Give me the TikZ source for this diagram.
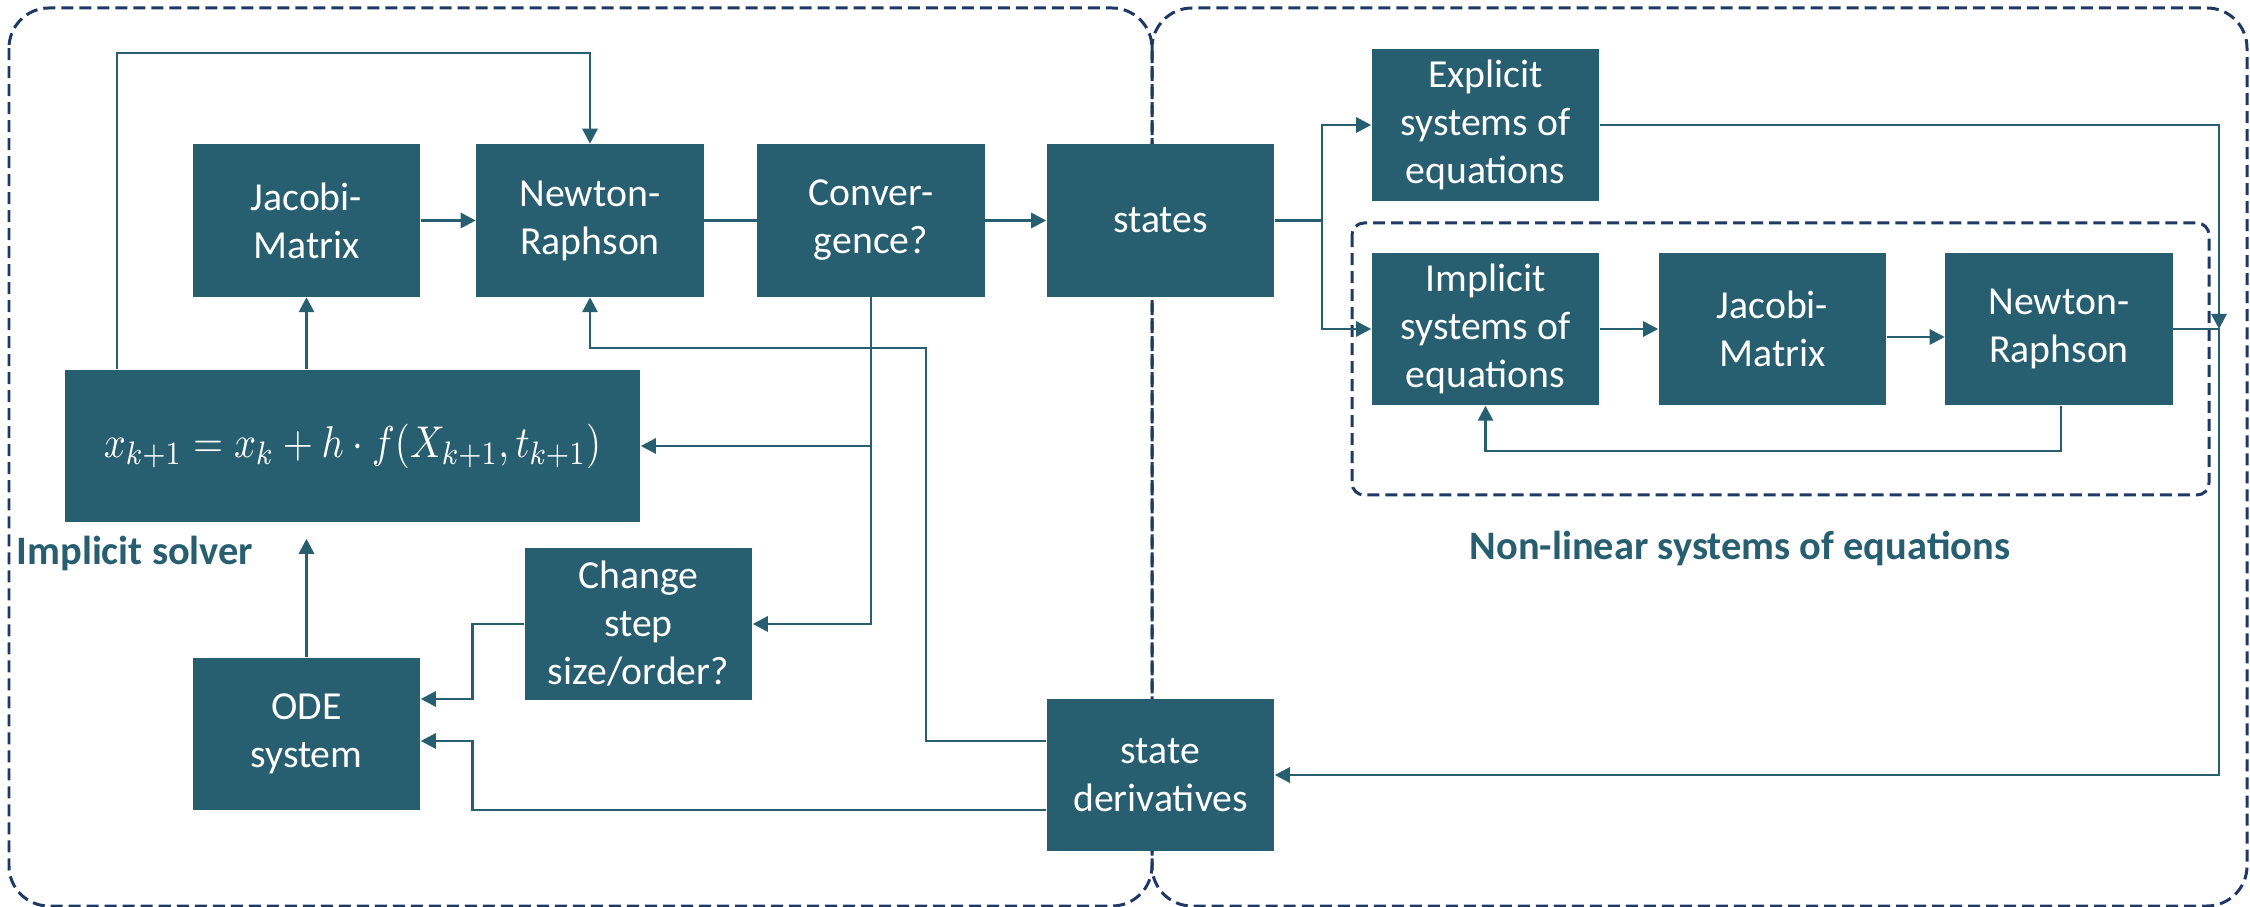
\documentclass[tikz,border=0pt]{standalone}
\usepackage{fontspec}
\setmainfont{Carlito}
\usepackage{graphicx}
\usetikzlibrary{arrows.meta}
\definecolor{boxteal}{RGB}{39,94,112}
\definecolor{navy}{RGB}{31,56,100}
\begin{document}
\begin{tikzpicture}[x=0.01cm,y=-0.01cm,
  blk/.style={rectangle, fill=boxteal, text=white, inner sep=0pt, align=center,
    minimum width=2.27cm, minimum height=1.52cm, font=\fontsize{11.3pt}{13.66pt}\selectfont},
  conn/.style={draw=boxteal, line width=0.8pt},
  arr/.style={conn, -{Triangle[length=0.15cm,width=0.15cm]}},
  region/.style={draw=navy, line width=0.85pt, dash pattern=on 0.12cm off 0.06cm},
  lbl/.style={text=boxteal, font=\fontsize{11.5pt}{14pt}\selectfont\bfseries, inner sep=0pt}]
\useasboundingbox (0,0) rectangle (2250,907);

% dashed regions
\draw[region, rounded corners=0.4cm] (9,8) rectangle (1152,906);
\draw[region, rounded corners=0.4cm] (1152,8) rectangle (2247,906);
\draw[region, rounded corners=0.12cm] (1352,223) rectangle (2209,495);

% blocks
\node[blk] (jac1) at (306.5,220.5) {Jacobi-\\Matrix};
\node[blk] (nr1) at (590,220.5) {Newton-\\Raphson};
\node[blk] (conv) at (871,220.5) {Conver-\\gence?};
\node[blk] (states) at (1160.5,220.5) {states};
\node[blk, minimum width=5.75cm] (eq) at (352.5,446)
  {\scalebox{1}[1.15]{\resizebox{4.97cm}{!}{$x_{k+1} = x_k + h\cdot f(X_{k+1},t_{k+1})$}}};
\node[blk] (chg) at (638.5,624) {Change\\step\\size/order?};
\node[blk] (ode) at (306.5,734) {ODE\\system};
\node[blk] (sd) at (1160.5,775) {state\\derivatives};
\node[blk] (expl) at (1485.5,125) {Explicit\\systems of\\equations};
\node[blk] (impl) at (1485.5,329) {Implicit\\systems of\\equations};
\node[blk] (jac2) at (1772.5,329) {Jacobi-\\Matrix};
\node[blk] (nr2) at (2059,329) {Newton-\\Raphson};

% labels
\node[lbl, anchor=west] (lis) at (16,553) {Implicit solver};
\node[lbl] (lnl) at (1740,548) {Non-linear systems of equations};

% coordinates
\coordinate (loopL) at (117,53);
\coordinate (rt) at (926,741);
\coordinate (rt2) at (926,348);
\coordinate (od1) at (472.5,810);
\coordinate (od2) at (472.5,699);
\coordinate (sp) at (1322,220.5);
\coordinate (rtop) at (2219,125);
\coordinate (rmid) at (2219,329);
\coordinate (rbot) at (2219,775);
\coordinate (fb) at (2061,451);

% left connectors
\draw[arr] (jac1) -- (nr1);
\draw[conn] (nr1) -- (conv);
\draw[arr] (conv) -- (states);
\draw[arr] (eq.north -| jac1.south) -- (jac1.south);
\draw[arr] (eq.north -| loopL) -- (loopL) -| (nr1.north);
\draw[arr] (conv.south) -- (conv.south |- chg.east) -- (chg.east);
\draw[arr] (conv.south |- eq.east) -- (eq.east);
\draw[arr] (sd.west |- rt) -- (rt) -- (rt2) -| (nr1.south);
\draw[arr] (sd.west |- od1) -- (od1) -- (od1 |- rt) -- (ode.east |- rt);
\draw[arr] (chg.west) -| (od2) -- (ode.east |- od2);
\draw[arr, shorten >=0.16cm] (ode.north) -- (ode.north |- eq.south);

% right connectors
\draw[conn] (states.east) -- (sp);
\draw[arr] (sp) |- (expl.west);
\draw[arr] (sp) |- (impl.west);
\draw[arr] (expl.east) -- (rtop) -- (rmid);
\draw[arr] (nr2.east |- rmid) -- (rmid) -- (rbot) -- (sd.east |- rbot);
\draw[arr] (impl) -- (jac2);
\draw[arr] ([yshift=-0.08cm]jac2.east) -- ([yshift=-0.08cm]nr2.west);
\draw[arr] (nr2.south -| fb) -- (fb) -| (impl.south);
\end{tikzpicture}
\end{document}
